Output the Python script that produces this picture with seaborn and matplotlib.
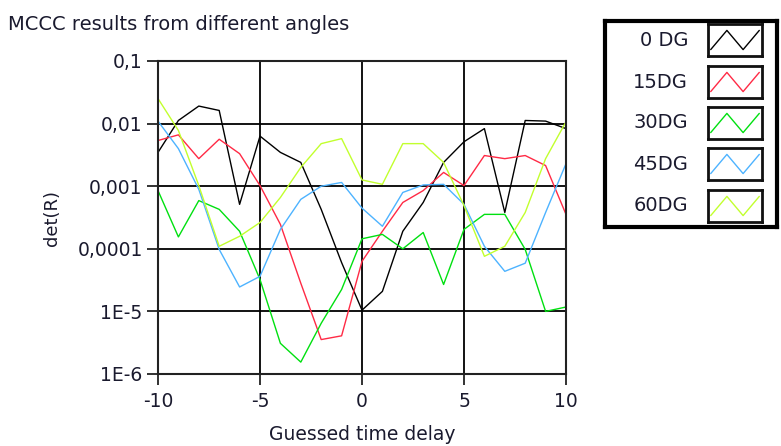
import numpy as np
import pandas as pd
import seaborn as sns
import matplotlib.pyplot as plt

delay = list(range(-10, 11))
labels = ['0 DG', '15DG', '30DG', '45DG', '60DG']
colors = ['#000000', '#ff2a45', '#00e010', '#4db3ff', '#c2ff2e']

# log10 of det(R)
dg0 = [-2.46, -1.95, -1.72, -1.79, -3.29, -2.20, -2.46, -2.62, -3.37, -4.22, -4.98,
       -4.68, -3.72, -3.26, -2.62, -2.29, -2.08, -3.42, -1.95, -1.96, -2.08]
dg15 = [-2.27, -2.18, -2.56, -2.25, -2.48, -2.99, -3.61, -4.55, -5.45, -5.39, -4.20,
        -3.72, -3.26, -3.07, -2.78, -2.99, -2.51, -2.56, -2.51, -2.67, -3.45]
dg30 = [-3.07, -3.81, -3.23, -3.37, -3.72, -4.49, -5.51, -5.81, -5.19, -4.65, -3.84,
        -3.77, -4.00, -3.74, -4.57, -3.69, -3.45, -3.45, -4.01, -5.00, -4.93]
dg45 = [-1.96, -2.40, -3.05, -4.01, -4.61, -4.44, -3.69, -3.21, -3.00, -2.94, -3.35,
        -3.64, -3.10, -2.98, -2.97, -3.29, -3.96, -4.36, -4.23, -3.42, -2.64]
dg60 = [-1.60, -2.11, -2.99, -3.96, -3.80, -3.58, -3.18, -2.70, -2.32, -2.24, -2.90,
        -2.97, -2.32, -2.32, -2.62, -3.31, -4.12, -3.96, -3.42, -2.56, -1.97]

ytick_vals = [1e-1, 1e-2, 1e-3, 1e-4, 1e-5, 1e-6]
ytick_labels = ['0,1', '0,01', '0,001', '0,0001', '1E-5', '1E-6']
xtick_vals = [-10, -5, 0, 5, 10]

frames = []
for name, vals in zip(labels, [dg0, dg15, dg30, dg45, dg60]):
    frames.append(pd.DataFrame({'delay': delay, 'det': 10 ** np.array(vals), 'angle': name}))
df = pd.concat(frames, ignore_index=True)

sns.set_style('white')
plt.rcParams['font.family'] = ['DejaVu Sans']
plt.rcParams['text.color'] = '#1a1a2e'
plt.rcParams['axes.labelcolor'] = '#1a1a2e'
plt.rcParams['xtick.color'] = '#1a1a2e'
plt.rcParams['ytick.color'] = '#1a1a2e'

fig = plt.figure(figsize=(7.81, 4.46), dpi=100)
ax = fig.add_axes([158 / 781, 1 - 374 / 446, (566 - 158) / 781, (374 - 61) / 446])

sns.lineplot(data=df, x='delay', y='det', hue='angle', hue_order=labels,
             palette=colors, linewidth=1.0, legend=False, ax=ax)
ax.set_yscale('log')
ax.set_xlim(-10, 10)
ax.set_ylim(1e-6, 1e-1)
ax.set_yticks(ytick_vals)
ax.set_yticklabels(ytick_labels)
ax.yaxis.set_minor_locator(plt.NullLocator())
ax.set_xticks(xtick_vals)
ax.set_xticklabels([str(v) for v in xtick_vals])
ax.grid(True, color='black', linewidth=1.3)
ax.set_axisbelow(True)
for s in ax.spines.values():
    s.set_color('#222222')
    s.set_linewidth(1.5)
ax.tick_params(direction='out', length=8, width=1.3, color='#222222',
               labelsize=13.5, pad=3, left=True, bottom=True)
ax.tick_params(axis='x', pad=5)
ax.set_xlabel('Guessed time delay', fontsize=13.5, labelpad=10)
ax.set_ylabel('det(R)', fontsize=13, labelpad=12)
fig.text(8 / 781, 1 - 24 / 446, 'MCCC results from different angles',
         fontsize=14, va='center', ha='left')

# legend box drawn like the original panel
lax = fig.add_axes([605 / 781, 1 - 227 / 446, (777 - 605) / 781, (227 - 21) / 446])
lax.set_xlim(605, 777)
lax.set_ylim(227, 21)
lax.set_xticks([])
lax.set_yticks([])
for s in lax.spines.values():
    s.set_linewidth(3)
    s.set_color('black')

zig_x = [0.05, 0.35, 0.65, 0.95]
zig_y = [0.2, 0.8, 0.2, 0.8]
centers = [40, 82, 123, 164, 206]
for name, col, cy in zip(labels, colors, centers):
    lax.text(688, cy, name, ha='right', va='center', fontsize=14)
    sax = fig.add_axes([708 / 781, 1 - (cy + 16) / 446, 54 / 781, 32 / 446])
    sax.plot(zig_x, zig_y, color=col, linewidth=1.0)
    sax.set_xlim(0, 1)
    sax.set_ylim(0, 1)
    sax.set_xticks([])
    sax.set_yticks([])
    for s in sax.spines.values():
        s.set_linewidth(2)
        s.set_color('#111111')

fig.savefig('out.png', dpi=100)
